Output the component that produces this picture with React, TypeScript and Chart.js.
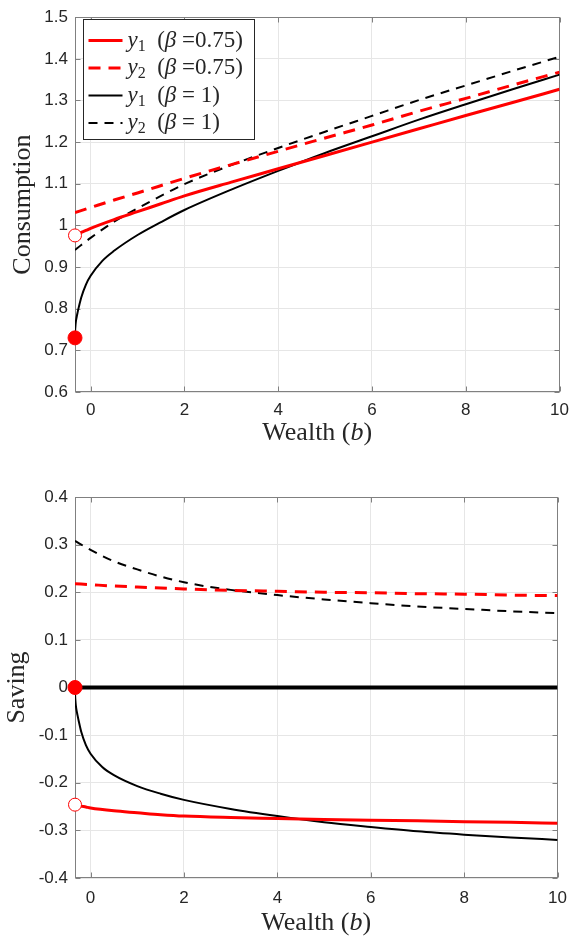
import React, { useEffect, useRef } from 'react';
import { Chart, registerables } from 'chart.js';

Chart.register(...registerables);

// ---------- data ----------
const X_MIN = -0.3333;
const X_MAX = 10;

const xTicks = [0, 2, 4, 6, 8, 10];
const xTickLabels = ['0', '2', '4', '6', '8', '10'];

const consTicks = [0.6, 0.7, 0.8, 0.9, 1.0, 1.1, 1.2, 1.3, 1.4, 1.5];
const consTickLabels = ['0.6', '0.7', '0.8', '0.9', '1', '1.1', '1.2', '1.3', '1.4', '1.5'];

const savTicks = [-0.4, -0.3, -0.2, -0.1, 0, 0.1, 0.2, 0.3, 0.4];
const savTickLabels = ['-0.4', '-0.3', '-0.2', '-0.1', '0', '0.1', '0.2', '0.3', '0.4'];

// y1, beta = 0.75
const wealthY1b075 = [-0.3333, -0.25, -0.1, 0, 0.5, 1, 1.5, 2, 3, 4, 5, 6, 7, 8, 9, 10];
const consY1b075 = [0.976, 0.981, 0.988, 0.993, 1.014, 1.033, 1.052, 1.071, 1.104, 1.136, 1.168, 1.2, 1.232, 1.264, 1.295, 1.327];
const savY1b075 = [-0.246, -0.248, -0.251, -0.253, -0.259, -0.263, -0.267, -0.27, -0.273, -0.275, -0.277, -0.279, -0.28, -0.282, -0.283, -0.285];

// y2, beta = 0.75
const wealthY2b075 = [-0.3333, 0, 0.5, 1, 2, 3, 4, 5, 6, 7, 8, 9, 10];
const consY2b075 = [1.031, 1.043, 1.061, 1.078, 1.113, 1.146, 1.178, 1.21, 1.241, 1.274, 1.305, 1.337, 1.368];
const savY2b075 = [0.218, 0.216, 0.213, 0.211, 0.207, 0.204, 0.202, 0.2, 0.199, 0.197, 0.196, 0.194, 0.193];

// y1, beta = 1
const wealthY1b1 = [-0.3333, -0.33, -0.325, -0.315, -0.3, -0.28, -0.25, -0.2, -0.1, 0, 0.25, 0.5, 1, 1.5, 2, 3, 4, 5, 6, 7, 8, 9, 10];
const consY1b1 = [0.73, 0.748, 0.757, 0.769, 0.779, 0.79, 0.805, 0.827, 0.858, 0.879, 0.915, 0.939, 0.977, 1.008, 1.037, 1.086, 1.131, 1.174, 1.214, 1.254, 1.291, 1.327, 1.362];
const savY1b1 = [0, -0.018, -0.027, -0.038, -0.048, -0.058, -0.072, -0.093, -0.121, -0.139, -0.167, -0.184, -0.207, -0.223, -0.236, -0.255, -0.27, -0.283, -0.293, -0.302, -0.309, -0.315, -0.32];

// y2, beta = 1
const wealthY2b1 = [-0.3333, -0.2, 0, 0.5, 1, 1.5, 2, 2.5, 3, 4, 5, 6, 7, 8, 9, 10];
const consY2b1 = [0.941, 0.953, 0.97, 1.009, 1.041, 1.071, 1.099, 1.123, 1.145, 1.186, 1.225, 1.263, 1.301, 1.336, 1.371, 1.405];
const savY2b1 = [0.308, 0.3, 0.289, 0.265, 0.248, 0.233, 0.221, 0.212, 0.205, 0.194, 0.185, 0.177, 0.17, 0.165, 0.16, 0.156];

// zero-saving reference line
const zeroWealth = [-0.3333, 10];
const zeroSaving = [0, 0];

// ---------- styles ----------
const RED = '#ff0000';
const BLACK = '#000000';
const TEXT = '#262626';
const GRID = '#e6e6e6';
const FRAME = '#808080';
const SANS = '"Liberation Sans", Arial, Helvetica, sans-serif';
const SERIF = '"Liberation Serif", "Times New Roman", serif';

const zip = (xs: number[], ys: number[]) => xs.map((x, i) => ({ x, y: ys[i] }));

const lineDs = (label: string, parts: any[], xs: number[], ys: number[], color: string, width: number, dash: number[]) => ({
  label,
  legendParts: parts,
  data: zip(xs, ys),
  borderColor: color,
  backgroundColor: color,
  borderWidth: width,
  borderDash: dash,
  pointRadius: 0,
  cubicInterpolationMode: 'monotone',
  fill: false,
});

const markerDs = (label: string, x: number, y: number, filled: boolean, r: number) => ({
  label,
  data: [{ x, y }],
  showLine: false,
  pointRadius: r,
  pointBackgroundColor: filled ? RED : '#ffffff',
  pointBorderColor: RED,
  pointBorderWidth: 1,
  clip: false,
});

const partsY1b075 = [['y', 'i'], ['1', 's'], ['  (', 'n'], ['β', 'i'], [' =0.75)', 'n']];
const partsY2b075 = [['y', 'i'], ['2', 's'], ['  (', 'n'], ['β', 'i'], [' =0.75)', 'n']];
const partsY1b1 = [['y', 'i'], ['1', 's'], ['  (', 'n'], ['β', 'i'], [' = 1)', 'n']];
const partsY2b1 = [['y', 'i'], ['2', 's'], ['  (', 'n'], ['β', 'i'], [' = 1)', 'n']];

// ---------- plugins ----------
const framePlugin = {
  id: 'matlabFrame',
  beforeDatasetsDraw(chart: any) {
    const { ctx, chartArea: a, scales } = chart;
    const L = Math.round(a.left) + 0.5;
    const R = Math.round(a.right) - 0.5;
    const T = Math.round(a.top) + 0.5;
    const B = Math.round(a.bottom) - 0.5;
    ctx.save();
    ctx.strokeStyle = FRAME;
    ctx.lineWidth = 1;
    ctx.strokeRect(L, T, R - L, B - T);
    const tl = 5;
    ctx.beginPath();
    scales.x.ticks.forEach((t: any) => {
      const p = Math.round(scales.x.getPixelForValue(t.value)) + 0.5;
      ctx.moveTo(p, B); ctx.lineTo(p, B - tl);
      ctx.moveTo(p, T); ctx.lineTo(p, T + tl);
    });
    scales.y.ticks.forEach((t: any) => {
      const p = Math.round(scales.y.getPixelForValue(t.value)) + 0.5;
      ctx.moveTo(L, p); ctx.lineTo(L + tl, p);
      ctx.moveTo(R, p); ctx.lineTo(R - tl, p);
    });
    ctx.stroke();
    ctx.restore();
  },
};

const legendPlugin = {
  id: 'insetLegend',
  afterDatasetsDraw(chart: any, _args: any, opts: any) {
    if (!opts || !opts.show) return;
    const { ctx, chartArea } = chart;
    const items = chart.data.datasets.filter((d: any) => d.legendParts);
    const x0 = Math.round(chartArea.left + opts.offsetX) + 0.5;
    const y0 = Math.round(chartArea.top + opts.offsetY) + 0.5;
    ctx.save();
    ctx.fillStyle = '#ffffff';
    ctx.fillRect(x0, y0, opts.width, opts.height);
    ctx.strokeStyle = TEXT;
    ctx.lineWidth = 1;
    ctx.strokeRect(x0, y0, opts.width, opts.height);
    items.forEach((d: any, i: number) => {
      const cy = y0 + opts.firstRow + i * opts.rowGap;
      ctx.strokeStyle = d.borderColor;
      ctx.lineWidth = d.borderWidth;
      ctx.setLineDash(d.borderDash || []);
      ctx.beginPath();
      ctx.moveTo(x0 + opts.sampleStart, cy);
      ctx.lineTo(x0 + opts.sampleEnd, cy);
      ctx.stroke();
      ctx.setLineDash([]);
      let tx = x0 + opts.textStart;
      ctx.fillStyle = TEXT;
      ctx.textBaseline = 'alphabetic';
      ctx.textAlign = 'left';
      for (const [t, st] of d.legendParts) {
        const fs = st === 's' ? opts.subSize : opts.fontSize;
        ctx.font = `${st === 'i' ? 'italic ' : ''}${fs}px ${SERIF}`;
        const by = cy + opts.baseline + (st === 's' ? opts.subDrop : 0);
        ctx.fillText(t, tx, by);
        tx += ctx.measureText(t).width;
      }
    });
    ctx.restore();
  },
};

const xTitlePlugin = {
  id: 'xTitle',
  afterDraw(chart: any, _args: any, opts: any) {
    const { ctx, chartArea: a } = chart;
    const parts: [string, boolean][] = [['Wealth (', false], ['b', true], [')', false]];
    ctx.save();
    ctx.fillStyle = TEXT;
    ctx.textBaseline = 'middle';
    ctx.textAlign = 'left';
    let w = 0;
    for (const [t, it] of parts) {
      ctx.font = `${it ? 'italic ' : ''}${opts.size}px ${SERIF}`;
      w += ctx.measureText(t).width;
    }
    let x = (a.left + a.right) / 2 - w / 2;
    const y = a.bottom + opts.offset;
    for (const [t, it] of parts) {
      ctx.font = `${it ? 'italic ' : ''}${opts.size}px ${SERIF}`;
      ctx.fillText(t, x, y);
      x += ctx.measureText(t).width;
    }
    ctx.restore();
  },
};

// ---------- config ----------
function buildConfig(p: any) {
  return {
    type: 'line',
    data: { datasets: p.datasets },
    plugins: [framePlugin, legendPlugin, xTitlePlugin],
    options: {
      animation: false,
      responsive: false,
      devicePixelRatio: 1,
      events: [],
      layout: { padding: { top: p.padTop, right: 12, left: 0, bottom: 0 } },
      plugins: {
        legend: { display: false },
        tooltip: { enabled: false },
        title: { display: false },
        insetLegend: p.legend,
        xTitle: { size: 26, offset: p.xTitleOffset },
      },
      scales: {
        x: {
          type: 'linear',
          min: X_MIN,
          max: X_MAX,
          afterBuildTicks: (s: any) => { s.ticks = xTicks.map((v) => ({ value: v })); },
          afterFit: (s: any) => { s.height = p.xAxisHeight; },
          ticks: {
            autoSkip: false,
            maxRotation: 0,
            padding: p.xTickPad,
            color: TEXT,
            font: { family: SANS, size: 17 },
            callback: (_v: any, i: number) => xTickLabels[i],
          },
          grid: { color: GRID, lineWidth: 1, drawTicks: false },
          border: { display: false },
        },
        y: {
          type: 'linear',
          min: p.yMin,
          max: p.yMax,
          afterBuildTicks: (s: any) => { s.ticks = p.yTicks.map((v: number) => ({ value: v })); },
          afterFit: (s: any) => { s.width = 75; },
          ticks: {
            autoSkip: false,
            padding: 7,
            color: TEXT,
            font: { family: SANS, size: 17 },
            callback: (_v: any, i: number) => p.yTickLabels[i],
          },
          grid: { color: GRID, lineWidth: 1, drawTicks: false },
          border: { display: false },
          title: {
            display: true,
            text: p.yTitle,
            color: TEXT,
            font: { family: SERIF, size: 26 },
            padding: { top: p.yTitlePad, bottom: 0 },
          },
        },
      },
    },
  };
}

const topConfig = () => buildConfig({
  datasets: [
    markerDs('start y1 β=1', wealthY1b1[0], consY1b1[0], true, 7),
    markerDs('start y1 β=0.75', wealthY1b075[0], consY1b075[0], false, 6.5),
    lineDs('y1 (β =0.75)', partsY1b075, wealthY1b075, consY1b075, RED, 3, []),
    lineDs('y2 (β =0.75)', partsY2b075, wealthY2b075, consY2b075, RED, 3, [12, 8]),
    lineDs('y1 (β = 1)', partsY1b1, wealthY1b1, consY1b1, BLACK, 2, []),
    lineDs('y2 (β = 1)', partsY2b1, wealthY2b1, consY2b1, BLACK, 2, [9, 7]),
  ],
  yMin: 0.6,
  yMax: 1.5,
  yTicks: consTicks,
  yTickLabels: consTickLabels,
  yTitle: 'Consumption',
  yTitlePad: 7.5,
  padTop: 12,
  xAxisHeight: 68,
  xTickPad: 8,
  xTitleOffset: 41,
  legend: {
    show: true, offsetX: 8, offsetY: 2, width: 171, height: 120,
    firstRow: 21, rowGap: 27.5, sampleStart: 5, sampleEnd: 39, textStart: 44,
    fontSize: 23, subSize: 16, baseline: 6, subDrop: 4,
  },
});

const bottomConfig = () => buildConfig({
  datasets: [
    markerDs('start y1 β=1', wealthY1b1[0], savY1b1[0], true, 7),
    markerDs('start y1 β=0.75', wealthY1b075[0], savY1b075[0], false, 6.5),
    {
      label: 'zero',
      data: zip(zeroWealth, zeroSaving),
      borderColor: BLACK,
      borderWidth: 4,
      pointRadius: 0,
      fill: false,
    },
    lineDs('y1 (β =0.75)', partsY1b075, wealthY1b075, savY1b075, RED, 3, []),
    lineDs('y2 (β =0.75)', partsY2b075, wealthY2b075, savY2b075, RED, 3, [12, 8]),
    lineDs('y1 (β = 1)', partsY1b1, wealthY1b1, savY1b1, BLACK, 2, []),
    lineDs('y2 (β = 1)', partsY2b1, wealthY2b1, savY2b1, BLACK, 2, [9, 7]),
  ],
  yMin: -0.4,
  yMax: 0.4,
  yTicks: savTicks,
  yTickLabels: savTickLabels,
  yTitle: 'Saving',
  yTitlePad: 1.5,
  padTop: 37,
  xAxisHeight: 60,
  xTickPad: 10,
  xTitleOffset: 45,
  legend: { show: false },
});

function ChartCanvas({ make, width, height, top }: { make: () => any; width: number; height: number; top: number }) {
  const ref = useRef<HTMLCanvasElement>(null);
  useEffect(() => {
    const chart = new Chart(ref.current as HTMLCanvasElement, make());
    return () => chart.destroy();
  }, []);
  return (
    <canvas
      ref={ref}
      width={width}
      height={height}
      style={{ position: 'absolute', left: 0, top, width, height, display: 'block' }}
    />
  );
}

export default function App() {
  return (
    <div style={{ position: 'absolute', left: 0, top: 0, width: 577, height: 938, background: '#ffffff', overflow: 'hidden' }}>
      <ChartCanvas make={topConfig} width={577} height={460} top={0} />
      <ChartCanvas make={bottomConfig} width={577} height={478} top={460} />
    </div>
  );
}
